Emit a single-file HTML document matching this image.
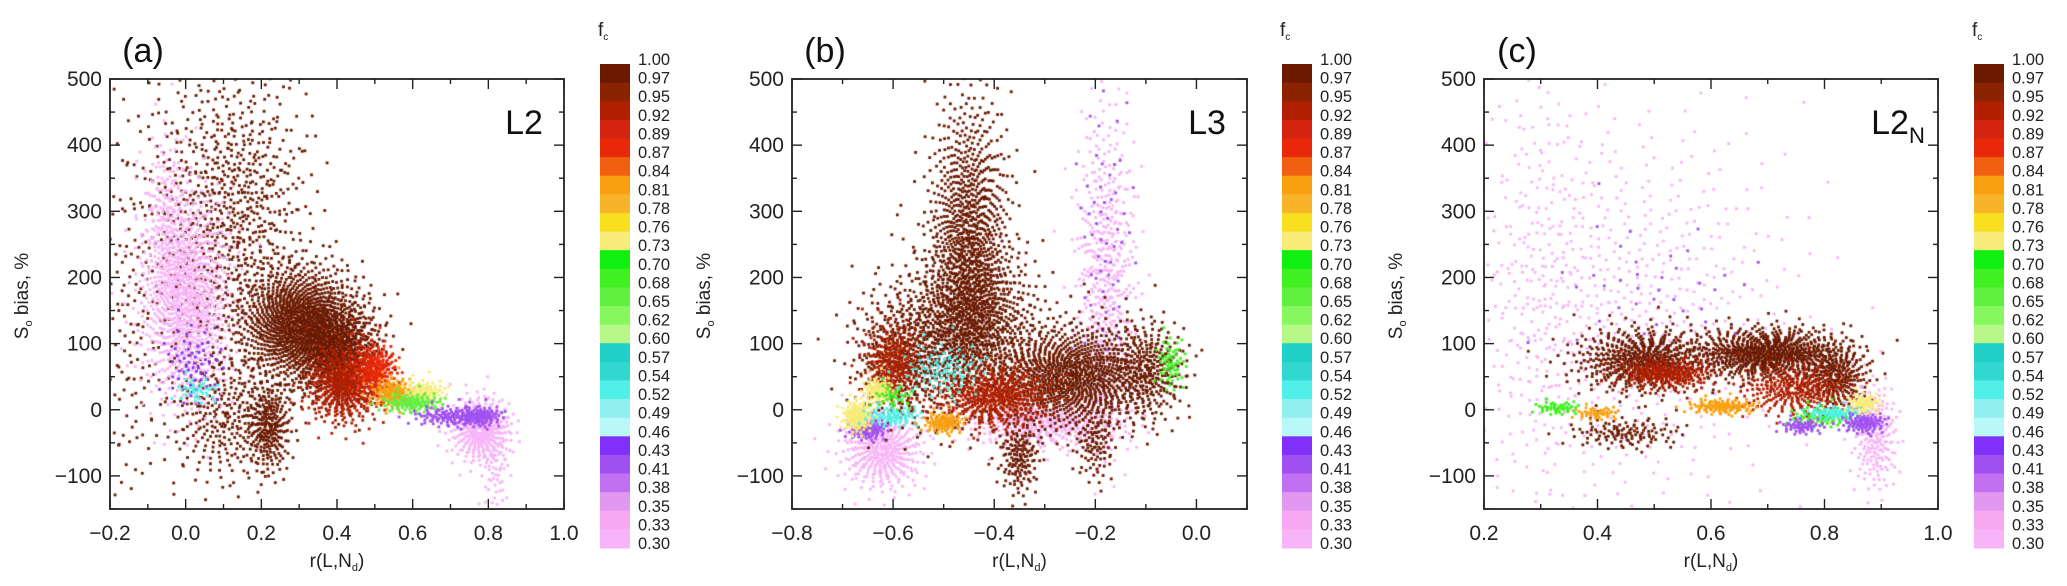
<!DOCTYPE html>
<html><head><meta charset="utf-8"><style>
body{margin:0;background:#fff;width:2067px;height:586px;overflow:hidden;position:relative;font-family:"Liberation Sans",sans-serif}
canvas,svg{position:absolute;left:0;top:0}
</style></head><body>
<canvas id="cv" width="2067" height="586"></canvas>
<svg id="sv" width="2067" height="586"></svg>
<script>
// colorbar data
const fcLabels=["1.00","0.97","0.95","0.92","0.89","0.87","0.84","0.81","0.78","0.76","0.73","0.70","0.68","0.65","0.62","0.60","0.57","0.54","0.52","0.49","0.46","0.43","0.41","0.38","0.35","0.33","0.30"];
const bandColors=["#6b1a00","#8b2200","#b02000","#d42410","#e82808","#f06010","#f8a010","#f8b428","#f8e020","#f8ec78","#10f010","#40f020","#60f040","#88f860","#b8f888","#20d0c8","#30d8d0","#50f0e8","#90f0f0","#b8f8f8","#8030f8","#a050f0","#c070f0","#e098f0","#f8a8f0","#f8b4f8"];
const yTicks=[-100,0,100,200,300,400,500];
const xTicksA=[-0.2,0.0,0.2,0.4,0.6,0.8,1.0];
const xTicksB=[-0.8,-0.6,-0.4,-0.2,0.0];
const xTicksC=[0.2,0.4,0.6,0.8,1.0];
// clusters: [x, y, sx, sy, n, fc]
const clustersA=[[0.05,250,0.12,150,550,0.98],[0.15,320,0.09,100,400,0.98],[0.1,-10,0.07,50,250,0.98],
[-0.15,80,0.04,150,90,0.98],
[0.0,170,0.06,80,1000,0.31],[-0.05,300,0.03,60,150,0.31],[0.02,70,0.04,30,60,0.44],[0.03,30,0.03,10,40,0.53],
[0.3,130,0.08,45,1100,0.98],[0.4,90,0.06,40,700,0.98],[0.22,-25,0.03,35,250,0.98],
[0.42,40,0.05,30,500,0.93],[0.5,60,0.03,20,200,0.88],[0.55,25,0.03,12,150,0.82],[0.63,25,0.03,10,100,0.75],
[0.6,10,0.04,8,120,0.66],[0.78,-30,0.04,25,350,0.31],[0.82,-90,0.02,40,60,0.31],[0.7,-10,0.05,8,120,0.42],[0.78,-10,0.03,8,100,0.42]];
const clustersB=[[-0.62,-60,0.04,30,400,0.31],[-0.3,-20,0.08,20,400,0.31],[-0.18,200,0.03,130,500,0.31],[-0.18,250,0.03,120,60,0.42],
[-0.45,250,0.04,110,1000,0.98],[-0.45,130,0.07,60,900,0.98],[-0.58,80,0.05,50,450,0.98],[-0.25,50,0.08,40,1000,0.98],[-0.1,60,0.04,40,300,0.98],
[-0.35,-70,0.02,30,150,0.98],[-0.2,-50,0.02,30,100,0.98],
[-0.4,20,0.06,25,500,0.93],[-0.6,70,0.03,30,250,0.93],[-0.65,-30,0.02,8,100,0.42],[-0.67,-10,0.015,12,150,0.75],[-0.63,30,0.015,10,80,0.75],
[-0.05,70,0.015,20,60,0.68],[-0.6,20,0.02,10,40,0.68],[-0.5,60,0.04,20,100,0.53],[-0.6,-10,0.03,8,80,0.53],[-0.5,-20,0.02,8,100,0.82]];
const clustersC=[[0.45,150,0.15,150,600,0.31],[0.3,200,0.05,200,200,0.31],[0.5,180,0.1,60,40,0.43],
[0.48,75,0.06,25,550,0.98],[0.7,85,0.07,20,750,0.98],[0.82,50,0.03,25,250,0.98],
[0.52,55,0.04,12,250,0.93],[0.75,30,0.05,20,300,0.93],[0.45,-35,0.05,12,120,0.98],
[0.62,5,0.03,6,120,0.82],[0.4,-5,0.02,5,50,0.82],[0.33,3,0.02,5,50,0.68],[0.8,-10,0.03,8,80,0.68],
[0.82,-5,0.03,5,80,0.53],[0.89,-40,0.02,40,200,0.31],[0.87,-20,0.02,8,100,0.42],[0.76,-25,0.02,6,60,0.42],[0.87,10,0.015,8,60,0.75]];

const NS="http://www.w3.org/2000/svg",sv=document.getElementById('sv'),ctx=document.getElementById('cv').getContext('2d');
function mk(t,a,p){const e=document.createElementNS(NS,t);for(const k in a)e.setAttribute(k,a[k]);(p||sv).appendChild(e);return e;}
function colorFor(fc){let i=Math.floor((1-fc)/0.7*26);i=Math.max(0,Math.min(25,i));return bandColors[i];}
const Y0=79,Y1=509,ymin=-150,ymax=500;
function ys(v){return Y1-(v-ymin)/(ymax-ymin)*(Y1-Y0);}
const panels=[
 {id:'a',x0:110,x1:564,xmin:-0.2,xmax:1.0,ticks:xTicksA,cl:clustersA,tag:'L2',sub:''},
 {id:'b',x0:792,x1:1247,xmin:-0.8,xmax:0.1,ticks:xTicksB,cl:clustersB,tag:'L3',sub:''},
 {id:'c',x0:1484,x1:1938,xmin:0.2,xmax:1.0,ticks:xTicksC,cl:clustersC,tag:'L2',sub:'N'}];
panels.forEach(P=>{
 const xs=v=>P.x0+(v-P.xmin)/(P.xmax-P.xmin)*(P.x1-P.x0);
 const g=mk('g',{});
 
 
 ctx.save();ctx.beginPath();ctx.rect(P.x0,Y0,P.x1-P.x0,Y1-Y0);ctx.clip();
 P.cl.forEach(c=>{
  const [cx,cy,sx,sy,n,fc]=c;ctx.fillStyle=colorFor(fc);
  for(let i=0;i<n;i++){
   const u=((i+1)*0.7548776662+0.37)%1,v=((i+1)*0.5698402910+0.21)%1;
   const r=Math.sqrt(-2*Math.log(Math.max(u,0.003))),a=2*Math.PI*v;
   const px=xs(cx+sx*r*Math.cos(a)),py=ys(cy+sy*r*Math.sin(a));
   ctx.fillRect(px-1.4,py-1.4,2.8,2.8);
  }
 });
 ctx.restore();
 const fr=mk('rect',{x:P.x0,y:Y0,width:P.x1-P.x0,height:Y1-Y0,fill:'none',stroke:'#222','stroke-width':1.8},g);
 
 for(let v=-150;v<=500;v+=50){const y=ys(v),L=(v%100===0)?10:5;
  mk('line',{x1:P.x0,x2:P.x0+L,y1:y,y2:y,stroke:'#222','stroke-width':1.4},g);
  mk('line',{x1:P.x1,x2:P.x1-L,y1:y,y2:y,stroke:'#222','stroke-width':1.4},g);}
 yTicks.forEach(v=>{const t=mk('text',{x:P.x0-8,y:ys(v)+7,'text-anchor':'end','font-size':21,fill:'#222'},g);t.textContent=v<0?'\u2212'+(-v):v;
  });
 for(let k=Math.round(P.xmin*10);k<=Math.round(P.xmax*10);k++){const v=k/10,x=xs(v),L=(k%2===0)?10:5;
  mk('line',{x1:x,x2:x,y1:Y1,y2:Y1-L,stroke:'#222','stroke-width':1.4},g);
  mk('line',{x1:x,x2:x,y1:Y0,y2:Y0+L,stroke:'#222','stroke-width':1.4},g);}
 P.ticks.forEach(v=>{const t=mk('text',{x:xs(v),y:540,'text-anchor':'middle','font-size':21,fill:'#222'},g);
  t.textContent=(v<0?'\u2212':'')+Math.abs(v).toFixed(1);
  });
 const xt=mk('text',{x:(P.x0+P.x1)/2,y:567,'text-anchor':'middle','font-size':19,fill:'#222'},g);
 xt.innerHTML='r(L,N<tspan font-size="11" dy="4">d</tspan><tspan dy="-4">)</tspan>';
 
 const yt=mk('text',{x:0,y:0,'text-anchor':'middle','font-size':19,fill:'#222',transform:`translate(${P.x0-82},296) rotate(-90)`},g);
 yt.innerHTML='S<tspan font-size="11" dy="4">o</tspan><tspan dy="-4"> bias,  %</tspan>';
 
 const pl=mk('text',{x:P.x0+33,y:62,'text-anchor':'middle','font-size':34,fill:'#111'},g);pl.textContent='('+P.id+')';
 
 const tg=mk('text',{x:P.x1-40,y:134,'text-anchor':'middle','font-size':34,fill:'#111'},g);
 tg.innerHTML=P.tag+(P.sub?'<tspan font-size="22" dy="9">'+P.sub+'</tspan>':'');
 
 const cx0=P.x0+490,cw=30,ct=64,cb=548,bh=(cb-ct)/26;
 const cbg=mk('g',{},g);
 bandColors.forEach((c,i)=>{const r=mk('rect',{x:cx0,y:ct+i*bh,width:cw,height:bh+0.5,fill:c},cbg);
  });
 fcLabels.forEach((l,i)=>{const t=mk('text',{x:cx0+38,y:ct+i*bh+1,'font-size':16.5,fill:'#222'},cbg);t.textContent=l;
  });
 const ft=mk('text',{x:cx0-2,y:36,'font-size':19,fill:'#222'},cbg);
 ft.innerHTML='f<tspan font-size="10" dy="4">c</tspan>';
 
});
</script>
</body></html>
